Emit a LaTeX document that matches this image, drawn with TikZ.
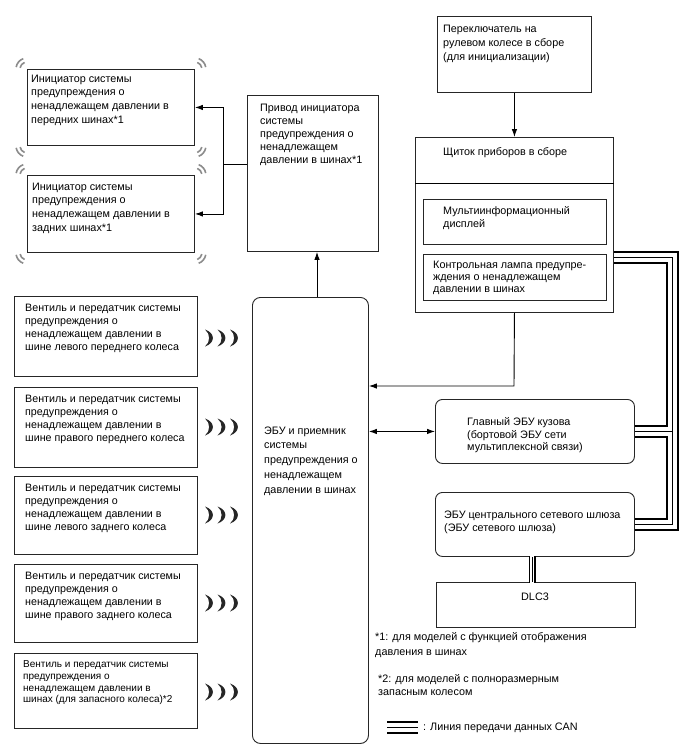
\documentclass[tikz,border=0pt]{standalone}
\usepackage{fontspec}
\setmainfont{Liberation Sans}
\usetikzlibrary{arrows.meta,calc}
\begin{document}
\begin{tikzpicture}[x=1pt,y=-1pt,
  box/.style={draw=black!85,line width=0.9pt,anchor=north west,inner sep=0pt},
  txt/.style={anchor=north west,align=left,inner sep=0pt,execute at begin node={\rule{0pt}{8pt}}},
  fa/.style={font=\fontsize{10.8}{13.7}\selectfont},
  fv/.style={font=\fontsize{10}{11.8}\selectfont},
  fw/.style={font=\fontsize{10.7}{13.3}\selectfont},
  arr/.style={-{Latex[length=8pt,width=5.5pt]},line width=0.9pt},
  darr/.style={{Latex[length=8pt,width=5.5pt]}-{Latex[length=8pt,width=5.5pt]},line width=0.9pt},
  plain/.style={line width=0.9pt},
  canA/.style={line width=13pt,black,line join=miter},
  canB/.style={line width=9pt,white,line join=miter},
  canC/.style={line width=1pt,black,line join=miter},
  nA/.style={line width=7pt,black},
  nB/.style={line width=4.5pt,white},
  nC/.style={line width=1pt,black},
  cw/.style={draw=black!45,line width=1.6pt},
  tpmswave/.pic={
    \foreach \i in {0,12.5,25}{
      \fill[black!85] ({\i},-8.5) .. controls ({\i+10.5},-5) and ({\i+10.5},5) .. ({\i},8.5)
        .. controls ({\i+5.5},4.5) and ({\i+5.5},-4.5) .. cycle;
    }
  }]
\fill[white] (0,0) rectangle (688,755);
\useasboundingbox (0,0) rectangle (688,755);

% initiators
\node[box,minimum width=167,minimum height=76] (front) at (27,69) {};
\node[box,minimum width=167,minimum height=77] (rear) at (27,175) {};
\node[txt,fa] (frontT) at (31,74.5) {Инициатор системы\\предупреждения о\\ненадлежащем давлении в\\передних шинах*1};
\node[txt,fa] (rearT) at (32,182.5) {Инициатор системы\\предупреждения о\\ненадлежащем давлении в\\задних шинах*1};
\foreach \n in {front,rear}{
  \draw[cw] ([shift={(190:7)}]\n.north west) arc[start angle=190,end angle=250,radius=7];
  \draw[cw] ([shift={(190:11)}]\n.north west) arc[start angle=190,end angle=250,radius=11];
  \draw[cw] ([shift={(290:7)}]\n.north east) arc[start angle=290,end angle=350,radius=7];
  \draw[cw] ([shift={(290:11)}]\n.north east) arc[start angle=290,end angle=350,radius=11];
  \draw[cw] ([shift={(110:7)}]\n.south west) arc[start angle=110,end angle=170,radius=7];
  \draw[cw] ([shift={(110:11)}]\n.south west) arc[start angle=110,end angle=170,radius=11];
  \draw[cw] ([shift={(10:7)}]\n.south east) arc[start angle=10,end angle=70,radius=7];
  \draw[cw] ([shift={(10:11)}]\n.south east) arc[start angle=10,end angle=70,radius=11];
}

% drive
\node[box,minimum width=131,minimum height=156] (drive) at (247,95) {};
\node[txt,fa,font=\fontsize{10.8}{13.2}\selectfont] (driveT) at (260,103.5) {Привод инициатора\\системы\\предупреждения о\\ненадлежащем\\давлении в шинах*1};

% switch
\node[box,minimum width=154,minimum height=76] (switch) at (437,16) {};
\node[txt,font=\fontsize{10.8}{14}\selectfont] (switchT) at (443,24.5) {Переключатель на\\рулевом колесе в сборе\\(для инициализации)};

% cluster
\node[box,minimum width=198,minimum height=175] (cluster) at (415,137) {};
\draw[plain] (cluster.north west |- 0,183) -- (cluster.north east |- 0,183);
\node[txt,fa] (clusterT) at (443,147.5) {Щиток приборов в сборе};
\node[box,minimum width=183,minimum height=45] (multi) at (423,199) {};
\node[txt,font=\fontsize{10.8}{12.7}\selectfont] (multiT) at (443,206.5) {Мультиинформационный\\дисплей};
\node[box,minimum width=183,minimum height=46] (lamp) at (423,254) {};
\node[txt,font=\fontsize{10.8}{12.3}\selectfont] (lampT) at (433,260.5) {Контрольная лампа предупре-\\ждения о ненадлежащем\\давлении в шинах};

% ECU
\node[box,rounded corners=8pt,minimum width=116,minimum height=446] (ecu) at (252,297) {};
\node[txt,font=\fontsize{10.8}{14.7}\selectfont] (ecuT) at (264,426.5) {ЭБУ и приемник\\системы\\предупреждения о\\ненадлежащем\\давлении в шинах};

% body ECU, gateway, DLC3
\node[box,rounded corners=7pt,minimum width=199,minimum height=64] (body) at (435,399) {};
\node[txt,font=\fontsize{10.8}{12.3}\selectfont] (bodyT) at (467,417.5) {Главный ЭБУ кузова\\(бортовой ЭБУ сети\\мультиплексной связи)};
\node[box,rounded corners=7pt,minimum width=199,minimum height=64] (gateway) at (435,492) {};
\node[txt,font=\fontsize{10.8}{13}\selectfont] (gatewayT) at (444,510.5) {ЭБУ центрального сетевого шлюза\\(ЭБУ сетевого шлюза)};
\node[box,minimum width=199,minimum height=45] (dlc) at (436,582) {};
\node[inner sep=0pt,font=\fontsize{10.8}{13}\selectfont] (dlcT) at (535,597) {DLC3};

% valve boxes
\node[box,minimum width=183,minimum height=80] (v1) at (14,296) {};
\node[box,minimum width=183,minimum height=80] (v2) at (14,387) {};
\node[box,minimum width=183,minimum height=78] (v3) at (14,476) {};
\node[box,minimum width=183,minimum height=78] (v4) at (14,564) {};
\node[box,minimum width=183,minimum height=75] (v5) at (14,653) {};
\node[txt,fw] (v1T) at ($(v1.north west)+(11,7.5)$) {Вентиль и передатчик системы\\предупреждения о\\ненадлежащем давлении в\\шине левого переднего колеса};
\node[txt,fw] (v2T) at ($(v2.north west)+(11,7.5)$) {Вентиль и передатчик системы\\предупреждения о\\ненадлежащем давлении в\\шине правого переднего колеса};
\node[txt,fw] (v3T) at ($(v3.north west)+(11,7.5)$) {Вентиль и передатчик системы\\предупреждения о\\ненадлежащем давлении в\\шине левого заднего колеса};
\node[txt,fw] (v4T) at ($(v4.north west)+(11,7.5)$) {Вентиль и передатчик системы\\предупреждения о\\ненадлежащем давлении в\\шине правого заднего колеса};
\node[txt,fv] (v5T) at ($(v5.north west)+(9,7.5)$) {Вентиль и передатчик системы\\предупреждения о\\ненадлежащем давлении в\\шинах (для запасного колеса)*2};
\pic at (205,338) {tpmswave};
\pic at (205,427) {tpmswave};
\pic at (205,515) {tpmswave};
\pic at (205,603) {tpmswave};
\pic at (205,692) {tpmswave};

% connectors
\coordinate (j) at (223,164);
\draw[plain] (drive.west |- j) -- (j);
\draw[arr] (j) |- (front.east);
\draw[arr] (j) |- (rear.east);
\draw[arr] (ecu.north -| 317,0) -- (drive.south -| 317,0);
\draw[arr] (switch.south) -- (cluster.north);
\coordinate (k) at (514,386);
\draw[arr] (cluster.south) -- (k) -- (ecu.east |- k);
\draw[darr] (ecu.east |- body.west) -- (body.west);

% CAN bus
\coordinate (c1) at (672,257);
\coordinate (c2) at (c1 |- gateway.east);
\coordinate (b1) at (body.east -| c1);
\coordinate (l1) at (387,727);
\coordinate (l2) at (418,727);
\draw[canA] ([xshift=0.5pt]cluster.east |- c1) -- (c1) -- (c2) -- ([xshift=0.5pt]gateway.east);
\draw[canA] ([xshift=0.5pt]body.east) -- (b1);
\draw[nA] ([yshift=0.5pt]gateway.south -| 532,0) -- ([yshift=-0.5pt]dlc.north -| 532,0);
\draw[canA] (l1) -- (l2);
\draw[canB] ([xshift=0.5pt]cluster.east |- c1) -- (c1) -- (c2) -- ([xshift=0.5pt]gateway.east);
\draw[canB] ([xshift=0.5pt]body.east) -- (b1);
\draw[nB] ([yshift=0.5pt]gateway.south -| 532,0) -- ([yshift=-0.5pt]dlc.north -| 532,0);
\draw[canB] (l1) -- (l2);
\draw[canC] (cluster.east |- c1) -- (c1) -- (c2) -- (gateway.east);
\draw[canC] (body.east) -- (b1);
\draw[nC] (gateway.south -| 532,0) -- (dlc.north -| 532,0);
\draw[canC] (l1) -- (l2);

% notes
\node[txt,font=\fontsize{10.8}{15}\selectfont] (note1) at (375,632.5) {*1: для моделей с функцией отображения\\давления в шинах};
\node[txt,font=\fontsize{10.8}{13}\selectfont] (note2) at (378,674.5) {*2: для моделей с полноразмерным\\запасным колесом};
\node[txt,font=\fontsize{10.8}{13}\selectfont] (legT) at (423,722.5) {: Линия передачи данных CAN};
\end{tikzpicture}
\end{document}
